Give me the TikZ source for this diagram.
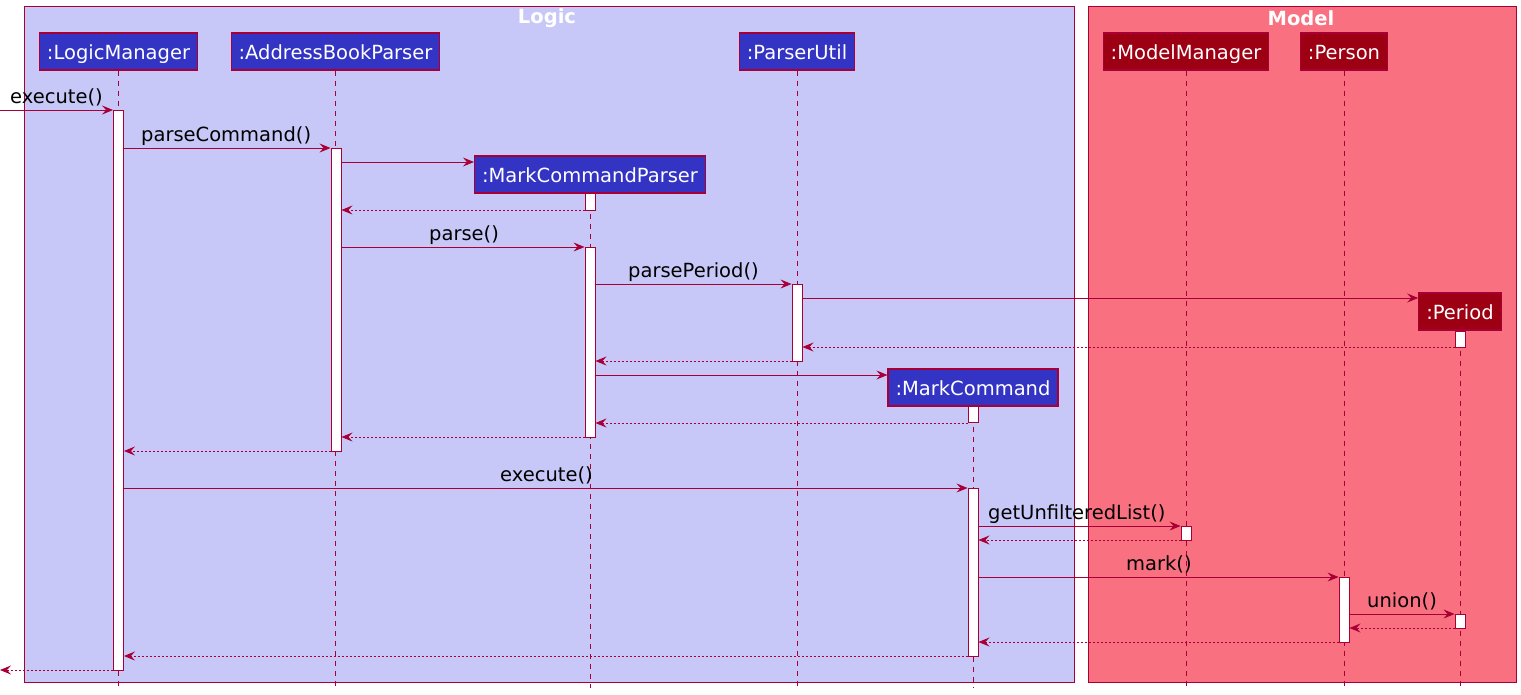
\documentclass[tikz,border=0pt]{standalone}
\usepackage{fontspec}
\setmainfont{DejaVu Sans}
\usetikzlibrary{arrows.meta}
\definecolor{edge}{HTML}{A80036}
\definecolor{logicbg}{HTML}{C8C8F8}
\definecolor{modelbg}{HTML}{F97181}
\definecolor{logicobj}{HTML}{3333C4}
\definecolor{modelobj}{HTML}{9D0012}
\begin{document}
\begin{tikzpicture}[x=1pt,y=-1pt,
  font=\fontsize{19.5}{23}\selectfont,
  tipend/.style={-{Stealth[length=11pt,width=9pt,inset=4pt]}},
  msg/.style={draw=edge, line width=0.9pt, tipend},
  ret/.style={msg, dash pattern=on 2pt off 2pt},
  lifeline/.style={draw=edge, line width=0.9pt, dash pattern=on 5pt off 5pt},
  obj/.style={draw=edge, line width=1.2pt, text=white, minimum height=37pt,
    text height=19pt, text depth=4pt, inner xsep=7.5pt, inner ysep=0pt},
  lobj/.style={obj, fill=logicobj},
  mobj/.style={obj, fill=modelobj},
  act/.style={draw=edge, fill=white, line width=0.9pt, minimum width=10pt, inner sep=0pt, anchor=north},
  lbl/.style={anchor=base west, inner sep=0pt},
  group/.style={draw=edge, line width=1pt, anchor=north west, inner sep=0pt},
  grouptitle/.style={text=white, font=\fontsize{19.5}{23}\selectfont\bfseries}
]
\useasboundingbox (0,0) rectangle (1521,694);

% groups
\node[group, fill=logicbg, minimum width=1050pt, minimum height=676pt] (logic) at (24,6) {};
\node[group, fill=modelbg, minimum width=428pt, minimum height=676pt] (model) at (1088,6) {};
\node[grouptitle] (logicT) at (547,18.5) {Logic};
\node[grouptitle] (modelT) at (1301,18.5) {Model};

% participants
\node[lobj] (LM) at (118.5,51.5) {:LogicManager};
\node[lobj] (ABP) at (335.5,51.5) {:AddressBookParser};
\node[lobj] (PU) at (797,51.5) {:ParserUtil};
\node[mobj] (MM) at (1186,51.5) {:ModelManager};
\node[mobj] (PS) at (1344,51.5) {:Person};
\node[lobj] (MCP) at (590,174.5) {:MarkCommandParser};
\node[mobj] (PER) at (1460,311.5) {:Period};
\node[lobj] (MC) at (973,387.5) {:MarkCommand};

% lifeline ends
\coordinate (LMe) at (118.5,688);
\coordinate (ABPe) at (335.5,688);
\coordinate (PUe) at (797,688);
\coordinate (MMe) at (1186,688);
\coordinate (PSe) at (1344,688);
\coordinate (MCPe) at (590,688);
\coordinate (PERe) at (1460,688);
\coordinate (MCe) at (973,688);
\foreach \p in {LM,ABP,PU,MM,PS,MCP,PER,MC}
  \draw[lifeline] (\p.south) -- (\p e);

% activations
\node[act, minimum height=560pt] (aLM) at (118.5,110) {};
\node[act, minimum height=303pt] (aABP) at (336,148) {};
\node[act, minimum height=17pt] (aMCP1) at (590,193) {};
\node[act, minimum height=190pt] (aMCP2) at (590,247) {};
\node[act, minimum height=77pt] (aPU) at (797,284) {};
\node[act, minimum height=16pt] (aPER1) at (1460,331) {};
\node[act, minimum height=16pt] (aMC1) at (973,406) {};
\node[act, minimum height=168pt] (aMC2) at (973,488) {};
\node[act, minimum height=14pt] (aMM) at (1186,526) {};
\node[act, minimum height=65pt] (aPS) at (1344,577) {};
\node[act, minimum height=14pt] (aPER2) at (1460,614) {};

% free ends
\coordinate (entry) at (0,110);
\coordinate (exit) at (0,670);

% messages
\draw[msg] (entry) -- (aLM.west |- entry);
\node[lbl] at (10,103) {execute()};

\draw[msg] (aLM.east |- 0,148) -- (aABP.west |- 0,148);
\node[lbl] at (141,141) {parseCommand()};

\draw[msg] (aABP.east |- 0,162) -- (MCP.west |- 0,162);
\draw[ret] (aMCP1.west |- 0,210) -- (aABP.east |- 0,210);

\draw[msg] (aABP.east |- 0,247) -- (aMCP2.west |- 0,247);
\node[lbl] at (429,240) {parse()};

\draw[msg] (aMCP2.east |- 0,284) -- (aPU.west |- 0,284);
\node[lbl] at (628,277) {parsePeriod()};

\draw[msg] (aPU.east |- 0,298) -- (PER.west |- 0,298);
\draw[ret] (aPER1.west |- 0,347) -- (aPU.east |- 0,347);
\draw[ret] (aPU.west |- 0,361) -- (aMCP2.east |- 0,361);

\draw[msg] (aMCP2.east |- 0,375) -- (MC.west |- 0,375);
\draw[ret] (aMC1.west |- 0,423) -- (aMCP2.east |- 0,423);
\draw[ret] (aMCP2.west |- 0,437) -- (aABP.east |- 0,437);
\draw[ret] (aABP.west |- 0,451) -- (aLM.east |- 0,451);

\draw[msg] (aLM.east |- 0,488) -- (aMC2.west |- 0,488);
\node[lbl] at (500,481) {execute()};

\draw[msg] (aMC2.east |- 0,526) -- (aMM.west |- 0,526);
\node[lbl] at (988,519) {getUnfilteredList()};
\draw[ret] (aMM.west |- 0,540) -- (aMC2.east |- 0,540);

\draw[msg] (aMC2.east |- 0,577) -- (aPS.west |- 0,577);
\node[lbl] at (1126,570) {mark()};

\draw[msg] (aPS.east |- 0,614) -- (aPER2.west |- 0,614);
\node[lbl] at (1367,607) {union()};
\draw[ret] (aPER2.west |- 0,628) -- (aPS.east |- 0,628);
\draw[ret] (aPS.west |- 0,642) -- (aMC2.east |- 0,642);
\draw[ret] (aMC2.west |- 0,656) -- (aLM.east |- 0,656);
\draw[ret] (aLM.west |- exit) -- (exit);
\end{tikzpicture}
\end{document}
